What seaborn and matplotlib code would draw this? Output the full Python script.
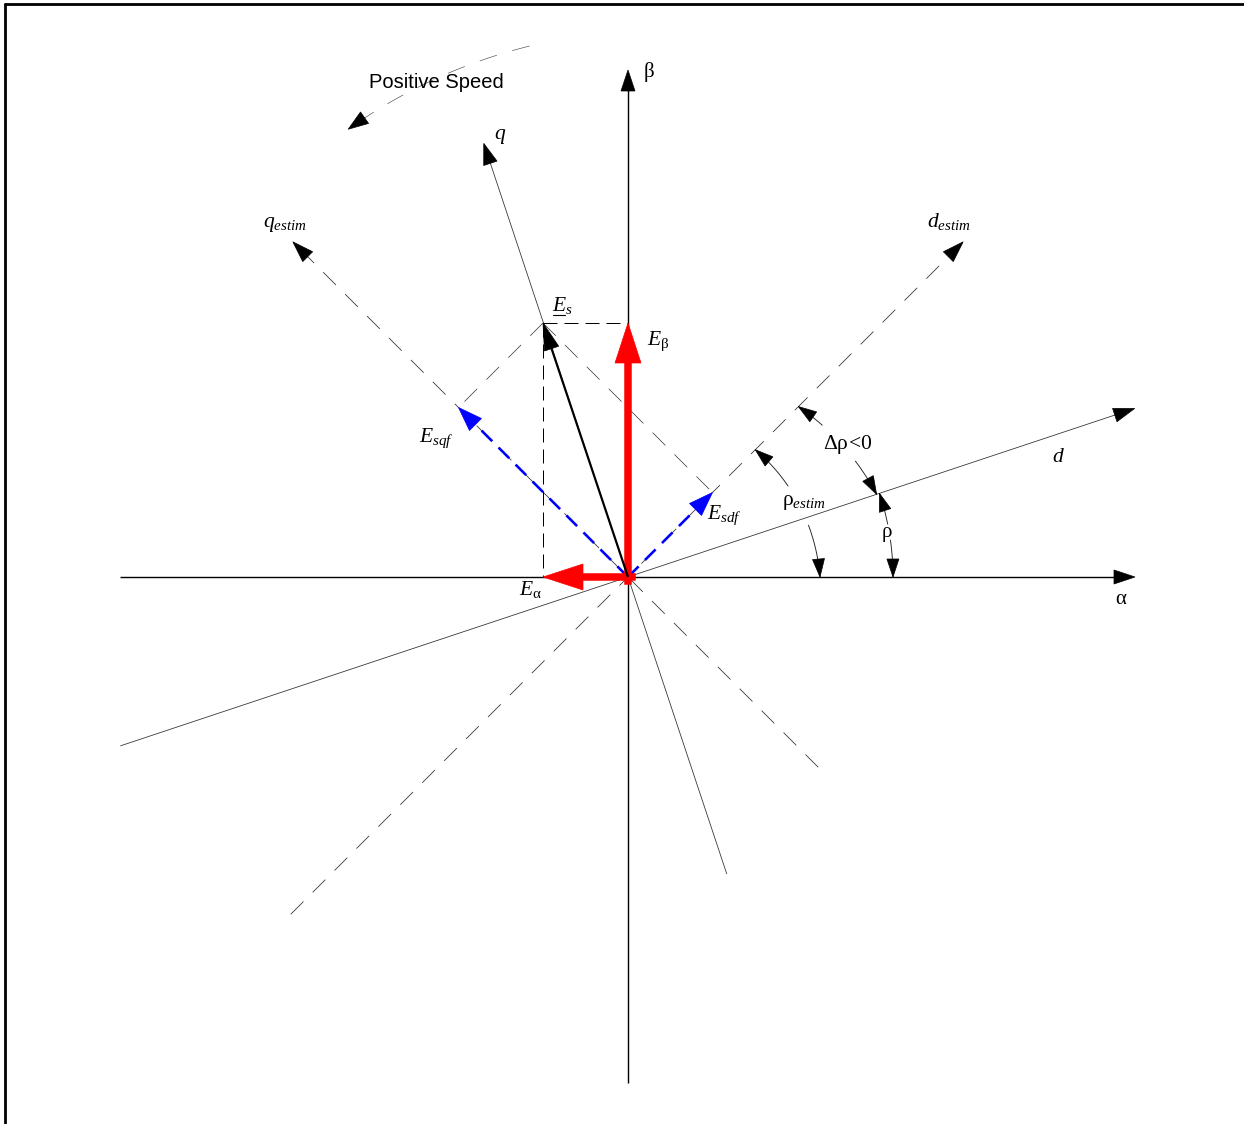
import numpy as np
import matplotlib
matplotlib.use("Agg")
import matplotlib.pyplot as plt
from matplotlib.patches import Polygon
from matplotlib.lines import Line2D
import seaborn as sns

# ---- diagram data (pixel-scaled units, origin at the alpha/beta crossing) ----
AXIS_NAMES = ["alpha", "beta", "d", "q", "d_estim", "q_estim"]
AXIS_ANGLES = [0.0, 90.0, 18.4, 108.4, 45.0, 135.0]      # degrees
AXIS_FWD = [507, 507, 534, 457, 474, 474]                 # length toward arrow
AXIS_BACK = [508, 506, 535, 313, 477, 269]                # length behind origin

E_ALPHA = -85    # alpha component of the back-EMF vector
E_BETA = 254     # beta component of the back-EMF vector

W, H = 1244, 1124
OX, OY = 628, 577

sns.set_theme(style="white")
plt.rcParams["font.family"] = ["Liberation Serif", "DejaVu Serif"]
plt.rcParams["mathtext.fontset"] = "custom"
plt.rcParams["mathtext.rm"] = "Liberation Serif"
plt.rcParams["mathtext.it"] = "Liberation Serif:italic"
plt.rcParams["mathtext.bf"] = "Liberation Serif:bold"
plt.rcParams["lines.scale_dashes"] = False
plt.rcParams["text.color"] = "black"

fig = plt.figure(figsize=(W / 100, H / 100), dpi=100)
ax = fig.add_axes([0, 0, 1, 1])
ax.set_xlim(-OX, W - OX)
ax.set_ylim(-(H - OY), OY)
ax.axis("off")

PT = 72 / 100  # points per pixel


def unit(deg):
    a = np.radians(deg)
    return np.array([np.cos(a), np.sin(a)])


def seg(p0, p1, color="black", lw=1.0, dashes=None, z=2, cap="butt"):
    sns.lineplot(x=[p0[0], p1[0]], y=[p0[1], p1[1]], ax=ax, color=color,
                 lw=lw * PT, sort=False, estimator=None, zorder=z)
    line = ax.lines[-1]
    line.set_solid_capstyle(cap)
    if dashes is not None:
        line.set_dashes([d * PT for d in dashes])
    return line


def head(tip, direction, length, width, color="black", z=5):
    tip = np.asarray(tip, float)
    u = np.asarray(direction, float)
    u = u / np.linalg.norm(u)
    n = np.array([-u[1], u[0]])
    base = tip - u * length
    pts = [tip, base + n * width / 2, base - n * width / 2]
    ax.add_patch(Polygon(pts, closed=True, fc=color, ec=color, lw=0.5, zorder=z))


def curve(a0, a1, r0, r1, n=80):
    t = np.linspace(0, 1, n)
    ang = np.radians(a0 + (a1 - a0) * t)
    r = r0 + (r1 - r0) * t
    return r * np.cos(ang), r * np.sin(ang)


def angle_arc(a_start, a_end, r_start, r_end, pieces, lw=0.9, dashes=None,
              color="black", head_start=True, head_end=True, hl=18, hw=12):
    """Arc from a_start to a_end (radius varying linearly); only the angle
    ranges listed in `pieces` are stroked."""
    def rad_at(a):
        return r_start + (r_end - r_start) * (a - a_start) / (a_end - a_start)
    for p0, p1 in pieces:
        x, y = curve(p0, p1, rad_at(p0), rad_at(p1))
        sns.lineplot(x=x, y=y, ax=ax, color=color, lw=lw * PT, sort=False,
                     estimator=None, zorder=3)
        if dashes is not None:
            ax.lines[-1].set_dashes([d * PT for d in dashes])
    def tipdir(a, toward):
        p = rad_at(a) * unit(a)
        q = rad_at(toward) * unit(toward)
        return p, p - q
    eps = 0.5 if a_end > a_start else -0.5
    if head_start:
        p, d = tipdir(a_start, a_start + eps)
        head(p, d, hl, hw)
    if head_end:
        p, d = tipdir(a_end, a_end - eps)
        head(p, d, hl, hw)


# ---- reference frames ----
axis_style = {
    "alpha": dict(lw=1.4, dashes=None, color="black"),
    "beta": dict(lw=1.4, dashes=None, color="black"),
    "d": dict(lw=0.8, dashes=None, color="#333333"),
    "q": dict(lw=0.8, dashes=None, color="#333333"),
    "d_estim": dict(lw=0.8, dashes=(18, 13), color="#333333"),
    "q_estim": dict(lw=0.8, dashes=(18, 13), color="#333333"),
}
for name, ang, fwd, back in zip(AXIS_NAMES, AXIS_ANGLES, AXIS_FWD, AXIS_BACK):
    u = unit(ang)
    st = axis_style[name]
    seg(-u * back, u * (fwd - 10), color=st["color"], lw=st["lw"],
        dashes=st["dashes"], z=1)
    head(u * fwd, u, 21, 14)

# ---- back-EMF vector and its projections ----
Es = np.array([E_ALPHA, E_BETA], float)
ud, uq = unit(AXIS_ANGLES[4]), unit(AXIS_ANGLES[5])
Esdf = np.dot(Es, ud) * ud
Esqf = np.dot(Es, uq) * uq

# construction lines
seg(Es, [0, Es[1]], lw=1.0, dashes=(14, 7), z=1)
seg(Es, [Es[0], 0], lw=1.0, dashes=(14, 7), z=1)
seg(Es, Esqf, lw=0.7, dashes=(18, 13), color="#333333", z=1)
seg(Es, Esdf, lw=0.7, dashes=(18, 13), color="#333333", z=1)

# estimated-frame components (blue, dashed)
for v in (Esqf, Esdf):
    L = np.linalg.norm(v)
    u = v / L
    seg([0, 0], u * (L - 18), color="#0000ff", lw=2.6, dashes=(15, 9), z=4)
    head(v, u, 24, 17, color="#0000ff", z=6)

# stationary-frame components (red, thick)
for v in (np.array([0, E_BETA], float), np.array([E_ALPHA, 0], float)):
    L = np.linalg.norm(v)
    u = v / L
    seg(-u * 4, u * (L - 36), color="#ff0000", lw=7.5, z=6, cap="projecting")
    head(v, u, 40, 26, color="#ff0000", z=7)

# back-EMF vector
L = np.linalg.norm(Es)
u = Es / L
seg([0, 0], u * (L - 20), lw=2.2, z=7)
head(Es, u, 27, 15, z=8)

# ---- angle arcs ----
rho, rho_est = AXIS_ANGLES[2], AXIS_ANGLES[4]
angle_arc(rho_est, 0, 180, 192, [(rho_est, 29.6), (16, 0)], color="#222222")
angle_arc(rho, 0, 265, 265, [(rho, 11.5), (8, 0)], color="#222222")
angle_arc(rho_est, rho, 241, 262, [(rho_est, 38), (27, rho)], color="#222222")

# rotation direction
angle_arc(100.5, 122, 540, 528, [(100.5, 122)], lw=0.6, dashes=(18, 16),
          color="#444444", head_start=False, head_end=True, hl=20, hw=14)

# ---- labels ----
def px(x, y):
    return x - OX, OY - y


def label(x, y, s, size=15.5, **kw):
    ax.text(*px(x, y), s, ha="center", va="center", fontsize=size, zorder=10, **kw)


ax.text(*px(436, 82), "Positive Speed", ha="center", va="center", fontsize=14.5,
        family=["Liberation Sans", "DejaVu Sans"], zorder=10)
label(649, 72, "β", size=15)
label(1121, 600, "α", size=15)
label(500, 136, "$q$")
label(285, 225, "$q_{estim}$")
label(949, 222, "$d_{estim}$")
label(1058, 458, "$d$")
label(562, 306, "$E_s$")
ax.plot([553 - OX, 565 - OX], [OY - 315, OY - 315], color="black", lw=0.8, zorder=10)
label(658, 341, r"$E_\mathrm{β}$")
label(436, 438, "$E_{sqf}$")
label(724, 515, "$E_{sdf}$")
label(530, 590, r"$E_\mathrm{α}$")
label(848, 445, r"$\mathrm{Δρ}\!\mathit{<}\!\mathit{0}$")
label(804, 503, r"$\mathrm{ρ}_{estim}$")
label(887, 532, "ρ", size=15)

# outer frame (top and left edges)
fig.add_artist(Line2D([5 / W, 1], [1 - 4 / H, 1 - 4 / H], transform=fig.transFigure,
                      color="black", lw=2.0))
fig.add_artist(Line2D([5 / W, 5 / W], [0, 1 - 4 / H], transform=fig.transFigure,
                      color="black", lw=2.0))

fig.savefig("out.png", dpi=100, facecolor="white")
